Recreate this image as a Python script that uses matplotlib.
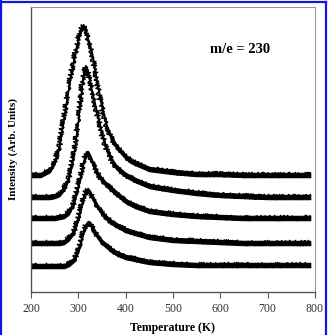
import matplotlib
matplotlib.use("Agg")
import matplotlib.pyplot as plt
from matplotlib.lines import Line2D
import numpy as np

# Temperature grid (K) at which the curves were read
temperature = [200, 220, 240, 250, 260, 270, 280, 290, 300, 305, 310, 315, 320, 325, 330,
               340, 350, 360, 370, 380, 400, 420, 450, 500, 550, 600, 650, 700, 750, 790]

# Intensity (arb. units), traces from top to bottom
trace_1 = [117, 117, 122, 130, 147, 177, 207, 232, 254, 262, 266, 262, 252, 245, 235,
           207, 184, 165, 154, 146, 135, 129, 123, 120, 118, 118, 117, 117, 117, 117]
trace_2 = [95, 95, 95, 96, 98, 104, 115, 137, 174, 197, 217, 225, 220, 207, 197,
           177, 157, 142, 132, 125, 117, 112, 106, 102, 99, 97, 96, 95, 95, 95]
trace_3 = [74, 74, 74, 74, 75, 76, 80, 89, 107, 117, 129, 137, 139, 135, 129,
           119, 112, 107, 103, 99, 91, 86, 81, 78, 76, 75, 74, 74, 74, 74]
trace_4 = [49, 49, 49, 49, 49, 50, 54, 60, 74, 84, 94, 100, 102, 99, 94,
           86, 79, 74, 70, 67, 62, 59, 55, 52, 51, 50, 49, 49, 49, 49]
trace_5 = [26, 26, 26, 26, 26, 26, 28, 32, 42, 50, 60, 66, 69, 68, 64,
           56, 50, 46, 42, 39, 35, 33, 30, 28, 27, 27, 27, 27, 27, 27]
traces = [trace_1, trace_2, trace_3, trace_4, trace_5]

x_ticks = [200, 300, 400, 500, 600, 700, 800]

plt.rcParams['font.family'] = ['Liberation Serif', 'DejaVu Serif']

fig = plt.figure(figsize=(3.29, 3.35), dpi=100)
fig.patch.set_facecolor('white')
W, H = 329, 335
ax = fig.add_axes([31 / W, (H - 292) / H, (315 - 31) / W, (292 - 7) / H])

band = 2.2  # half thickness of the noise band (style)
for tr in traces:
    y = np.asarray(tr, dtype=float)
    poly = ax.fill_between(temperature, y - band, y + band, facecolor='black',
                           edgecolor='black', lw=0.8)
    poly.set_sketch_params(scale=1.6, length=1.5, randomness=3.0)
    ln, = ax.plot(temperature, tr, color='black', lw=1.1)
    ln.set_sketch_params(scale=2.6, length=1.2, randomness=3.0)

ax.set_xlim(200, 800)
ax.set_ylim(0, 285)
ax.set_xticks(x_ticks)
ax.set_yticks([])
ax.tick_params(axis='x', direction='out', length=4, width=0.8, color='#555555',
               labelsize=8.5, labelcolor='#333333', pad=4)
for side in ['left', 'bottom']:
    ax.spines[side].set_color('#555555')
    ax.spines[side].set_linewidth(1.0)
for side in ['top', 'right']:
    ax.spines[side].set_color('#999999')
    ax.spines[side].set_linewidth(0.8)

ax.set_xlabel('Temperature (K)', fontsize=8.5, fontweight='bold', labelpad=5)
ax.set_ylabel('Intensity (Arb. Units)', fontsize=8, fontweight='bold', labelpad=9)
ax.text(0.63, 0.85, 'm/e = 230', transform=ax.transAxes, fontsize=10.5,
        fontweight='bold', ha='left', va='center')

# blue frame around the figure
blue = '#1414e0'
fig.add_artist(Line2D([1 / W, 1 / W], [0, 1], transform=fig.transFigure, color=blue, lw=1.6))
fig.add_artist(Line2D([0, 326 / W], [1 - 2 / H, 1 - 2 / H], transform=fig.transFigure, color=blue, lw=1.6))
fig.add_artist(Line2D([326 / W, 326 / W], [0, 1 - 2 / H], transform=fig.transFigure, color=blue, lw=1.6))

fig.savefig('out.png', dpi=100)
